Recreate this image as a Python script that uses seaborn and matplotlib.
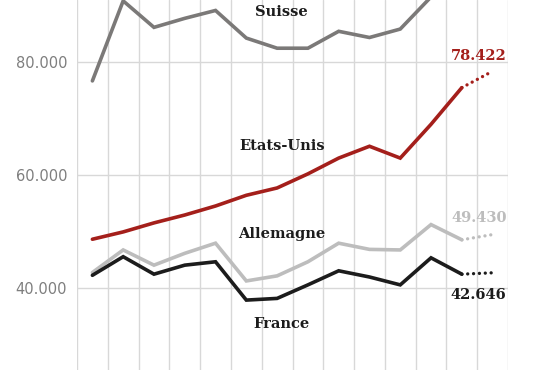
import matplotlib
matplotlib.use("Agg")
import matplotlib.pyplot as plt
import matplotlib.ticker as mticker
import pandas as pd
import seaborn as sns

# values (last value = dotted projection)
years = list(range(2006, 2020))
suisse = [76700, 90900, 86200, 87800, 89200, 84300, 82500, 82500, 85500, 84400, 85900, 91600, 94500, 96000]
etats_unis = [48600, 49900, 51500, 52900, 54500, 56400, 57700, 60200, 63000, 65100, 63000, 69000, 75500, 78422]
allemagne = [42700, 46700, 44000, 46100, 47900, 41200, 42100, 44600, 47900, 46800, 46700, 51200, 48500, 49430]
france = [42200, 45500, 42400, 44000, 44600, 37800, 38100, 40500, 43000, 41900, 40500, 45300, 42400, 42646]

countries = ["Suisse", "Etats-Unis", "Allemagne", "France"]
colors = {"Suisse": "#7b7978", "Etats-Unis": "#a41f1b",
          "Allemagne": "#bdbdbd", "France": "#1c1c1c"}
series = {"Suisse": suisse, "Etats-Unis": etats_unis,
          "Allemagne": allemagne, "France": france}

rows = []
for c in countries:
    for i, (yr, v) in enumerate(zip(years, series[c])):
        rows.append({"pays": c, "i": i, "annee": yr, "valeur": v})
df = pd.DataFrame(rows)

sns.set_style("white")
fig = plt.figure(figsize=(5.55, 3.7), dpi=100)
ax = fig.add_axes([77 / 555, 0, 431 / 555, 1])

n = len(years)
solid = df[df["i"] < n - 1]
proj = df[df["i"] >= n - 2]

sns.lineplot(data=solid, x="i", y="valeur", hue="pays", palette=colors,
             linewidth=2.6, legend=False, ax=ax, solid_joinstyle="miter")
for c in countries:
    d = proj[proj["pays"] == c]
    sns.lineplot(data=d, x="i", y="valeur", color=colors[c], linewidth=2.4,
                 dashes=False, ax=ax, legend=False,
                 linestyle=(0, (0.01, 1.75)), dash_capstyle="round")

ax.set_xlim(-0.5, n - 0.5)
ax.set_ylim(25395, 91056)
ax.set_xticks([i - 0.5 for i in range(n + 1)])
ax.set_xticklabels([])
ax.set_yticks([40000, 60000, 80000])
ax.yaxis.set_major_formatter(mticker.FuncFormatter(lambda v, p: f"{int(v):,}".replace(",", ".")))
ax.tick_params(axis="both", length=0)
ax.tick_params(axis="y", labelsize=10.5, labelcolor="#7e7e7e", pad=7)
ax.grid(True, color="#d8d8d8", linewidth=1)
ax.set_axisbelow(True)
for s in ax.spines.values():
    s.set_visible(False)
ax.set_xlabel("")
ax.set_ylabel("")

lab = dict(fontfamily="DejaVu Serif", fontweight="bold", fontsize=10.5, ha="center", va="center")
mid = 6.15
ax.text(mid, 89000, "Suisse", color="#1c1c1c", **lab)
ax.text(mid, 65200, "Etats-Unis", color="#1c1c1c", **lab)
ax.text(mid, 49500, "Allemagne", color="#1c1c1c", **lab)
ax.text(mid, 33500, "France", color="#1c1c1c", **lab)

vlab = dict(fontfamily="DejaVu Serif", fontweight="bold", fontsize=10.5, ha="center", va="center")
ax.text(12.55, 81200, "78.422", color=colors["Etats-Unis"], **vlab)
ax.text(12.55, 52300, "49.430", color=colors["Allemagne"], **vlab)
ax.text(12.55, 38700, "42.646", color=colors["France"], **vlab)

fig.savefig("out.png", dpi=100)
